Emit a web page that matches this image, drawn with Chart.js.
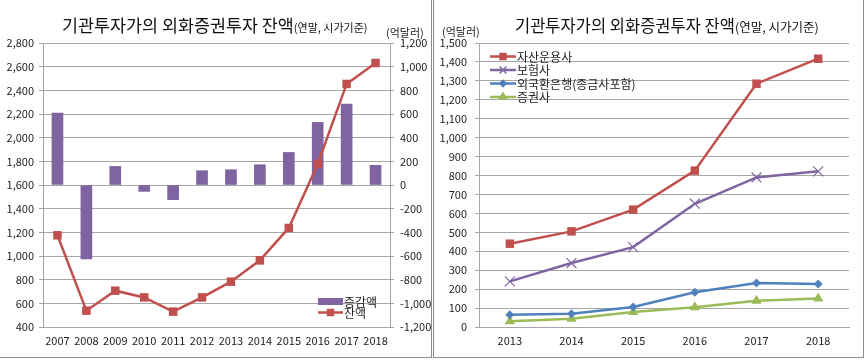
<!DOCTYPE html>
<html>
<head>
<meta charset="utf-8">
<script src="https://cdn.jsdelivr.net/npm/chart.js@4"></script>
<style>
  body { margin: 0; background: #fff; width: 865px; height: 360px; position: relative; overflow: hidden;
         font-family: "Noto Sans CJK KR", "Noto Sans", sans-serif; color: #222; }
  .panel { position: absolute; top: -2px; height: 359px; background: #fff; }
  #leftPanel { left: 0; width: 431px; border-right: 1px solid #8c8c8c; border-bottom: 1px solid #8c8c8c; }
  #rightPanel { left: 433px; width: 429px; border-left: 1px solid #8c8c8c; border-right: 1px solid #8c8c8c; border-bottom: 1px solid #8c8c8c; }
  canvas { position: absolute; left: 0; top: 2px; }
  .title { position: absolute; white-space: nowrap; line-height: 22px; color: #111; }
  .unit { position: absolute; font-size: 11px; white-space: nowrap; }
</style>
</head>
<body>
<div class="panel" id="leftPanel">
  <canvas id="balanceChart" width="431" height="357"></canvas>
  <div class="title" style="left:62px; top:16px; font-size:17.4px;">기관투자가의 외화증권투자 잔액<span style="font-size:11px;">(연말, 시가기준)</span></div>
  <div class="unit" style="left:386px; top:26px;">(억달러)</div>
</div>
<div class="panel" id="rightPanel">
  <canvas id="sectorChart" width="429" height="357"></canvas>
  <div class="title" style="left:81px; top:16px; font-size:16.5px;">기관투자가의 외화증권투자 잔액<span style="font-size:12.5px;">(연말, 시가기준)</span></div>
  <div class="unit" style="left:8px; top:25px;">(억달러)</div>
</div>
<script>
const yearsLeft = ['2007', '2008', '2009', '2010', '2011', '2012', '2013', '2014', '2015', '2016', '2017', '2018'];
const changeValues = [608, -625, 157, -54, -124, 121, 129, 171, 275, 529, 684, 166];
const balanceValues = [1175, 538, 707, 650, 530, 650, 783, 963, 1237, 1778, 2454, 2631];

const yearsRight = ['2013', '2014', '2015', '2016', '2017', '2018'];
const assetMgmt = [440, 505, 620, 826, 1285, 1417];
const insurance = [241, 338, 422, 651, 790, 822];
const banks = [65, 70, 106, 183, 232, 227];
const securities = [30, 44, 79, 104, 139, 150];

const PURPLE = '#8064A2', RED = '#C0504D', BLUE = '#4F81BD', GREEN = '#9BBB59';
const GRID = '#a6a6a6';
const FONT = { family: '"Noto Sans CJK KR", "Noto Sans", sans-serif', size: 11 };
const fmt = v => v.toLocaleString('en-US');

// legend drawn inside the plot area, Excel style
const insideLegend = {
  id: 'insideLegend',
  afterDraw(chart, args, opts) {
    const ctx = chart.ctx, area = chart.chartArea;
    const x0 = opts.fromRight ? area.right - opts.dx : area.left + opts.dx;
    const y0 = opts.fromBottom ? area.bottom - opts.dy : area.top + opts.dy;
    ctx.save();
    ctx.font = '12px "Noto Sans CJK KR", sans-serif';
    ctx.textBaseline = 'middle';
    opts.items.forEach((it, i) => {
      const y = y0 + i * opts.step;
      if (it.box) {
        ctx.fillStyle = it.color;
        ctx.fillRect(x0, y - 3.5, opts.len, 7);
      } else {
        ctx.strokeStyle = it.color;
        ctx.lineWidth = 2.5;
        ctx.beginPath(); ctx.moveTo(x0, y); ctx.lineTo(x0 + opts.len, y); ctx.stroke();
        ctx.fillStyle = it.color;
        ctx.lineWidth = 1.5;
        Chart.helpers.drawPoint(ctx, { pointStyle: it.style, radius: it.radius * 0.7, rotation: 0, borderWidth: 1.5 }, x0 + opts.len / 2, y);
      }
      ctx.fillStyle = '#222';
      ctx.fillText(it.label, x0 + opts.len + 1, y + 0.5);
    });
    ctx.restore();
  }
};

new Chart(document.getElementById('balanceChart'), {
  type: 'bar',
  data: {
    labels: yearsLeft,
    datasets: [
      { type: 'line', label: '잔액', data: balanceValues, yAxisID: 'y', order: 0,
        borderColor: RED, backgroundColor: RED, borderWidth: 2.5, tension: 0,
        pointStyle: 'rect', pointRadius: 6, pointBorderWidth: 0 },
      { type: 'bar', label: '증감액', data: changeValues, yAxisID: 'y1', order: 1,
        backgroundColor: PURPLE, barThickness: 11 }
    ]
  },
  options: {
    responsive: false,
    animation: false,
    layout: { padding: { top: 43, left: 0, right: 0, bottom: 0 } },
    plugins: {
      legend: { display: false },
      tooltip: { enabled: false },
      insideLegend: {
        fromRight: true, fromBottom: true, dx: 72, dy: 25.5, step: 11, len: 25,
        items: [
          { label: '증감액', color: PURPLE, box: true },
          { label: '잔액', color: RED, style: 'rect', radius: 6 }
        ]
      }
    },
    scales: {
      x: {
        grid: { display: false, drawTicks: false },
        border: { color: GRID },
        ticks: { color: '#222', font: FONT, padding: 7, maxRotation: 0, autoSkip: false },
        afterFit: s => { s.height = 30; }
      },
      y: {
        position: 'left', min: 400, max: 2800,
        grid: { color: GRID, tickLength: 4 },
        border: { color: GRID },
        ticks: { stepSize: 200, color: '#222', font: FONT, padding: 5, callback: fmt },
        afterFit: s => { s.width = 43; }
      },
      y1: {
        position: 'right', min: -1200, max: 1200,
        grid: { drawOnChartArea: false, color: GRID, tickLength: 4 },
        border: { color: GRID },
        ticks: { stepSize: 200, color: '#222', font: FONT, padding: 6, callback: fmt },
        afterFit: s => { s.width = 41; }
      }
    }
  },
  plugins: [insideLegend]
});

const lineSet = (label, data, color, style, radius) => ({
  label, data, borderColor: color, backgroundColor: color, borderWidth: 2.5, tension: 0,
  pointStyle: style, pointRadius: radius, pointBorderWidth: style === 'crossRot' ? 1.2 : 0,
  pointBorderColor: color
});

new Chart(document.getElementById('sectorChart'), {
  type: 'line',
  data: {
    labels: yearsRight,
    datasets: [
      lineSet('자산운용사', assetMgmt, RED, 'rect', 6),
      lineSet('보험사', insurance, PURPLE, 'crossRot', 7),
      lineSet('외국환은행(종금사포함)', banks, BLUE, 'rectRot', 4.5),
      lineSet('증권사', securities, GREEN, 'triangle', 6)
    ]
  },
  options: {
    responsive: false,
    animation: false,
    layout: { padding: { top: 43, left: 0, right: 14, bottom: 0 } },
    plugins: {
      legend: { display: false },
      tooltip: { enabled: false },
      insideLegend: {
        fromRight: false, fromBottom: false, dx: 11, dy: 13.5, step: 13.5, len: 26,
        items: [
          { label: '자산운용사', color: RED, style: 'rect', radius: 6 },
          { label: '보험사', color: PURPLE, style: 'crossRot', radius: 7 },
          { label: '외국환은행(종금사포함)', color: BLUE, style: 'rectRot', radius: 4.5 },
          { label: '증권사', color: GREEN, style: 'triangle', radius: 6 }
        ]
      }
    },
    scales: {
      x: {
        offset: true,
        grid: { display: false, drawTicks: false },
        border: { color: GRID },
        ticks: { color: '#222', font: FONT, padding: 7, maxRotation: 0 },
        afterFit: s => { s.height = 30; }
      },
      y: {
        min: 0, max: 1500,
        grid: { color: GRID, tickLength: 4 },
        border: { color: GRID },
        ticks: { stepSize: 100, color: '#222', font: FONT, padding: 8, callback: fmt },
        afterFit: s => { s.width = 45; }
      }
    }
  },
  plugins: [insideLegend]
});
</script>
</body>
</html>
